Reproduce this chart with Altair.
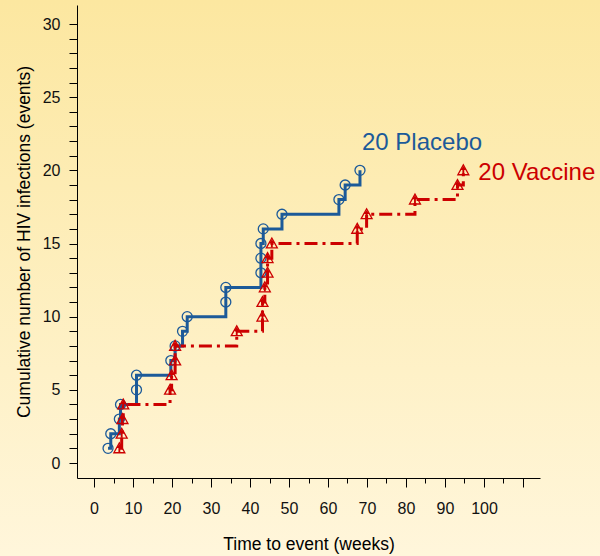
import altair as alt
import pandas as pd

# Event times (weeks), in event order
placebo_t = [3.6, 4.3, 6.5, 6.8, 10.9, 10.9, 19.7, 20.8, 22.7, 23.9,
             33.8, 33.8, 42.8, 42.8, 42.8, 43.4, 48.2, 62.8, 64.4, 68.2]
vaccine_t = [6.5, 7.1, 7.3, 7.5, 19.5, 19.9, 20.8, 20.8, 36.6, 43.2,
             43.2, 43.8, 44.5, 44.5, 45.6, 67.5, 69.9, 82.3, 93.2, 94.7]

x_ticks = list(range(0, 111, 5))
y_ticks = list(range(0, 31, 1))

BLUE = "#1c5a99"
RED = "#cc0000"
FONT = "Liberation Sans"

placebo = pd.DataFrame({"t": placebo_t, "n": list(range(1, len(placebo_t) + 1))})
vaccine = pd.DataFrame({"t": vaccine_t, "n": list(range(1, len(vaccine_t) + 1))})

xscale = alt.Scale(domain=[-4.36, 114.36], nice=False, zero=False)
yscale = alt.Scale(domain=[-1.025, 31.3], nice=False, zero=False)

xaxis = alt.Axis(
    values=x_ticks,
    tickCount=500,
    format="d",
    title="Time to event (weeks)",
    tickSize={"condition": {"test": "datum.value % 10 === 0", "value": 9}, "value": 5},
    labelExpr="(datum.value % 10 === 0 && datum.value <= 100) ? datum.label : ''",
    labelPadding=13,
    titlePadding=19,
    labelOverlap=False,
    labelFlush=False,
    grid=False,
    zindex=2,
)
yaxis = alt.Axis(
    values=y_ticks,
    tickCount=500,
    format="d",
    title="Cumulative number of HIV infections (events)",
    tickSize=8,
    labelExpr="datum.value % 5 === 0 ? datum.label : ''",
    labelPadding=9,
    titlePadding=9,
    labelOverlap=False,
    labelFlush=False,
    grid=False,
    zindex=2,
)

bg = alt.Chart(pd.DataFrame({"a": [0]})).mark_rect(
    fill=alt.Gradient(
        gradient="linear",
        stops=[alt.GradientStop(color="#fce7a0", offset=0),
               alt.GradientStop(color="#fff6db", offset=1)],
        x1=0, x2=0, y1=0, y2=1,
    )
).encode(x=alt.value(-77), x2=alt.value(523), y=alt.value(-5), y2=alt.value(551))

blue_line = alt.Chart(placebo).mark_line(
    interpolate="step-after", color=BLUE, strokeWidth=3
).encode(x=alt.X("t:Q", scale=xscale, axis=xaxis),
         y=alt.Y("n:Q", scale=yscale, axis=yaxis), order="n:Q")

red_line = alt.Chart(vaccine).mark_line(
    interpolate="step-after", color=RED, strokeWidth=3, strokeDash=[13, 5, 3, 5]
).encode(x="t:Q", y="n:Q", order="n:Q")

circles = alt.Chart(placebo).mark_point(
    shape="circle", size=100, filled=False, stroke=BLUE, strokeWidth=1.3, opacity=1
).encode(x="t:Q", y="n:Q")

tri_outline = alt.Chart(vaccine).mark_point(
    shape="M0,-1L1,0.8L-1,0.8Z", size=120, filled=False, stroke=RED,
    strokeWidth=1.3, opacity=1
).encode(x="t:Q", y="n:Q")

tri_arrow = alt.Chart(vaccine).mark_point(
    shape="M0,-0.75L0.55,-0.05L-0.55,-0.05Z M-0.17,-0.05L0.17,-0.05L0.17,0.75L-0.17,0.75Z",
    size=120, filled=True, fill=RED, strokeWidth=0, opacity=1
).encode(x="t:Q", y="n:Q")

lab_p = pd.DataFrame({"t": [placebo_t[-1]], "n": [len(placebo_t)],
                      "label": [f"{len(placebo_t)} Placebo"]})
lab_v = pd.DataFrame({"t": [vaccine_t[-1]], "n": [len(vaccine_t)],
                      "label": [f"{len(vaccine_t)} Vaccine"]})

text_p = alt.Chart(lab_p).mark_text(
    align="left", baseline="middle", dx=2, dy=-27, fontSize=24, font=FONT, color=BLUE
).encode(x="t:Q", y="n:Q", text="label:N")
text_v = alt.Chart(lab_v).mark_text(
    align="left", baseline="middle", dx=15, dy=3, fontSize=24, font=FONT, color=RED
).encode(x="t:Q", y="n:Q", text="label:N")

chart = alt.layer(
    bg, blue_line, red_line, circles, tri_outline, tri_arrow, text_p, text_v
).properties(
    width=463, height=473,
    padding={"left": 77, "top": 5, "right": 60, "bottom": 78},
    autosize=alt.AutoSizeParams(type="none"),
    background="#fef0c0",
).configure_view(stroke=None).configure_axis(
    domainColor="#000000", domainWidth=1, tickColor="#000000", tickWidth=1,
    labelFont=FONT, labelFontSize=16, labelColor="#111111",
    titleFont=FONT, titleFontSize=17.5, titleFontWeight="normal", titleColor="#000000",
)

chart.save("out.html", embed_options={"renderer": "svg", "actions": False})
